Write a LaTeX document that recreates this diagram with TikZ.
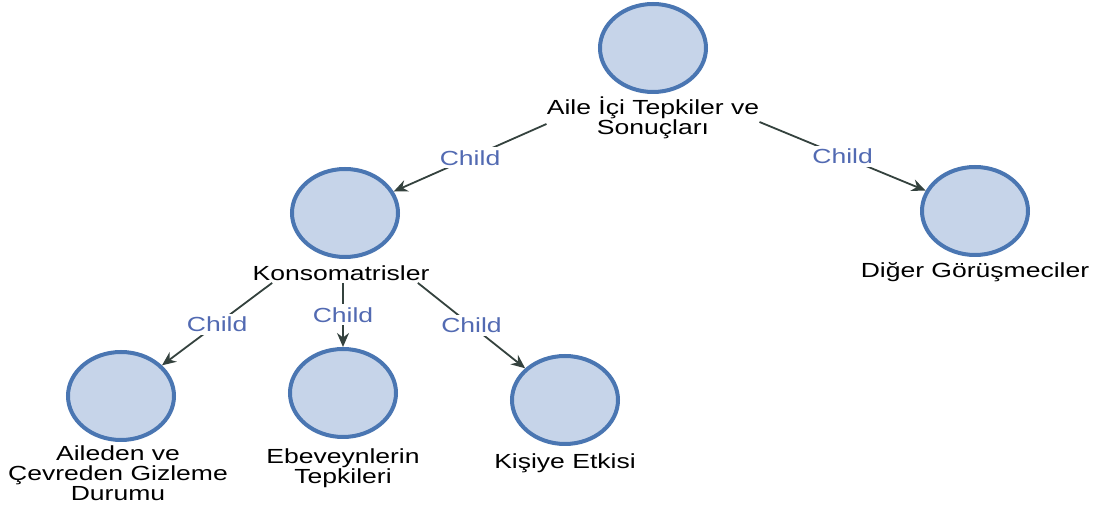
\documentclass[tikz,border=0pt]{standalone}
\usepackage{fontspec}
\setmainfont{Liberation Sans}
\newfontfamily\labfont[FakeStretch=1.3]{Liberation Sans}
\usetikzlibrary{shapes.geometric,arrows.meta}
\definecolor{circfill}{RGB}{198,212,233}
\definecolor{circdraw}{RGB}{74,118,178}
\definecolor{edgecol}{RGB}{52,66,62}
\definecolor{childcol}{RGB}{82,106,178}
\begin{document}
\begin{tikzpicture}[x=0.5pt,y=-0.5pt,
  circ/.style={ellipse, draw=circdraw, line width=2pt, fill=circfill,
    minimum width=53pt, minimum height=44pt, inner sep=0pt},
  lab/.style={font=\labfont\fontsize{10.2pt}{10pt}\selectfont, align=center,
    inner sep=0pt, text=black},
  edgeline/.style={draw=edgecol, line width=0.9pt, -{Stealth[length=7pt,width=6pt]}},
  childlab/.style={font=\labfont\fontsize{10.2pt}{10pt}\selectfont, text=childcol,
    fill=white, inner sep=1.5pt}]
\useasboundingbox (0,0) rectangle (1100,517);
\fill[white] (0,0) rectangle (1100,517);

% circles
\node[circ] (top) at (653,48) {};
\node[circ] (kons) at (345,213) {};
\node[circ] (diger) at (975,211) {};
\node[circ] (aile) at (121,396) {};
\node[circ] (ebev) at (343,393) {};
\node[circ] (kisi) at (565,400) {};

% labels
\node[lab] (toplab) at (653,118) {Aile İçi Tepkiler ve\\Sonuçları};
\node[lab] (konslab) at (341,273) {Konsomatrisler};
\node[lab] (digerlab) at (975,272) {Diğer Görüşmeciler};
\node[lab] (ailelab) at (118,473) {Aileden ve\\Çevreden Gizleme\\Durumu};
\node[lab] (ebevlab) at (343,468) {Ebeveynlerin\\Tepkileri};
\node[lab] (kisilab) at (565,463) {Kişiye Etkisi};

% edges
\draw[edgeline] ([yshift=-3pt]toplab.west) -- node[childlab] (c1) {Child} (kons);
\draw[edgeline] ([yshift=-2pt]toplab.east) -- node[childlab] (c2) {Child} (diger);
\draw[edgeline] ([xshift=10pt,yshift=-1pt]konslab.south west) -- node[childlab] (c3) {Child} (aile);
\draw[edgeline] ([yshift=-1pt]konslab.south -| ebev) -- node[childlab] (c4) {Child} (ebev);
\draw[edgeline] ([xshift=-6pt,yshift=-1pt]konslab.south east) -- node[childlab] (c5) {Child} (kisi);
\end{tikzpicture}
\end{document}
